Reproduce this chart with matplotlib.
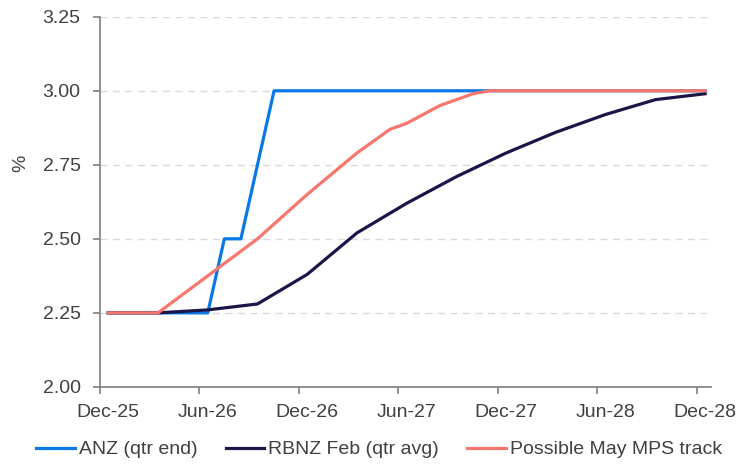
import matplotlib
matplotlib.use("Agg")
import matplotlib.pyplot as plt

# months counted from Dec-25 (0) to Dec-28 (36)
tick_months = [0, 6, 12, 18, 24, 30, 36]
tick_labels = ["Dec-25", "Jun-26", "Dec-26", "Jun-27", "Dec-27", "Jun-28", "Dec-28"]

anz_months = [0, 6, 7, 8, 10, 36]
anz = [2.25, 2.25, 2.50, 2.50, 3.00, 3.00]

rbnz_months = [0, 3, 6, 9, 12, 15, 18, 21, 24, 27, 30, 33, 36]
rbnz = [2.25, 2.25, 2.26, 2.28, 2.38, 2.52, 2.62, 2.71, 2.79, 2.86, 2.92, 2.97, 2.99]

may_months = [0, 3, 9, 12, 15, 17, 18, 20, 22, 23, 36]
may = [2.25, 2.25, 2.50, 2.65, 2.79, 2.87, 2.89, 2.95, 2.99, 3.00, 3.00]

plt.rcParams['font.family'] = ['Liberation Sans', 'DejaVu Sans']
txt = "#404040"
axc = "#7f7f7f"

fig = plt.figure(figsize=(7.39, 4.65), dpi=100)
ax = fig.add_axes([0.1353, 0.168, 0.8267, 0.796])

# points sit in the middle of each monthly category
ax.plot([m + 0.5 for m in anz_months], anz, color="#0a78e6", lw=2.3, label="ANZ (qtr end)", zorder=3)
ax.plot([m + 0.5 for m in rbnz_months], rbnz, color="#1b1548", lw=2.3, label="RBNZ Feb (qtr avg)", zorder=3)
ax.plot([m + 0.5 for m in may_months], may, color="#f8766b", lw=2.3, label="Possible May MPS track", zorder=4)

ax.set_xlim(0, 36.85)
ax.set_ylim(2.0, 3.25)
ax.set_yticks([2.0, 2.25, 2.5, 2.75, 3.0, 3.25])
ax.set_yticklabels(["%.2f" % v for v in [2.0, 2.25, 2.5, 2.75, 3.0, 3.25]])
# tick marks on category edges, labels on category centres
ax.set_xticks(tick_months)
ax.set_xticklabels([])
ax.set_xticks([m + 0.5 for m in tick_months], minor=True)
ax.set_xticklabels(tick_labels, minor=True)

for v in [2.25, 2.5, 2.75, 3.0, 3.25]:
    ax.axhline(v, color="#d9d9d9", lw=1, ls=(0, (5, 4)), zorder=1)

for s in ["top", "right"]:
    ax.spines[s].set_visible(False)
for s in ["left", "bottom"]:
    ax.spines[s].set_color(axc)
    ax.spines[s].set_linewidth(1.2)

ax.tick_params(axis="both", direction="out", length=5, width=1.2, color=axc,
               labelsize=14, labelcolor=txt)
ax.tick_params(axis="x", which="minor", length=0, pad=12, labelsize=14, labelcolor=txt)
ax.tick_params(axis="y", pad=9)
ax.set_ylabel("%", fontsize=14, color=txt)
ax.yaxis.set_label_coords(-0.115, 0.605)

fig.legend(loc="center", bbox_to_anchor=(0.513, 0.033), ncol=3, frameon=False,
           fontsize=14, labelcolor=txt, handlelength=2.0, handletextpad=0.2,
           columnspacing=1.45)

fig.savefig("out.png", dpi=100)
